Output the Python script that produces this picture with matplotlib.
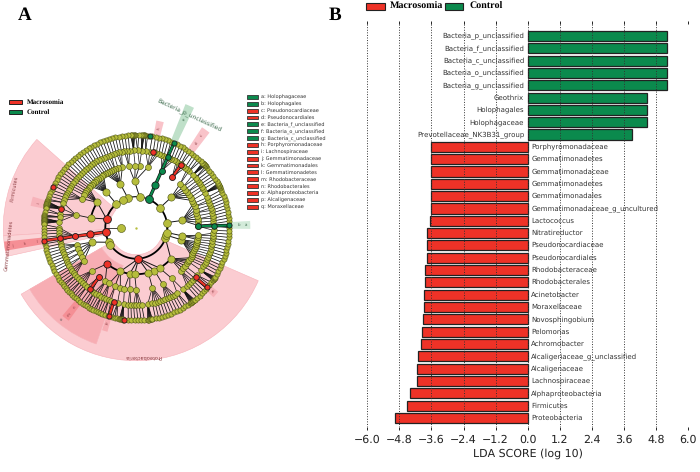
import numpy as np
import matplotlib
matplotlib.use("Agg")
import matplotlib.pyplot as plt
from matplotlib.patches import Wedge, Rectangle

plt.rcParams["text.hinting"] = "none"
plt.rcParams["text.hinting_factor"] = 1

# ==========================================
# Panel B values
# ==========================================

taxa = [
    "Bacteria_p_unclassified", "Bacteria_f_unclassified", "Bacteria_c_unclassified",
    "Bacteria_o_unclassified", "Bacteria_g_unclassified", "Geothrix", "Holophagales",
    "Holophagaceae", "Prevotellaceae_NK3B31_group", "Porphyromonadaceae",
    "Gemmatimonadetes", "Gemmatimonadaceae", "Gemmatimonadetes", "Gemmatimonadales",
    "Gemmatimonadaceae_g_uncultured", "Lactococcus", "Nitratireductor",
    "Pseudonocardiaceae", "Pseudonocardiales", "Rhodobacteraceae", "Rhodobacterales",
    "Acinetobacter", "Moraxellaceae", "Novosphingobium", "Pelomonas", "Achromobacter",
    "Alcaligeriaceae_g_unclassified", "Alcaligenaceae", "Lachnospiraceae",
    "Alphaproteobacteria", "Firmicutes", "Proteobacteria",
]
lda = [
    5.21, 5.21, 5.21, 5.21, 5.21, 4.47, 4.47, 4.47, 3.92,
    -3.62, -3.63, -3.63, -3.63, -3.63, -3.63, -3.65, -3.75, -3.78, -3.78,
    -3.83, -3.83, -3.87, -3.87, -3.91, -3.95, -3.98, -4.11, -4.13, -4.14,
    -4.42, -4.51, -4.97,
]
lda_ticks = [-6.0, -4.8, -3.6, -2.4, -1.2, 0.0, 1.2, 2.4, 3.6, 4.8, 6.0]

# ==========================================
# Panel A values (angles in degrees)
# ==========================================

legend_a = [
    ("a: Holophagaceae", "g"), ("b: Holophagales", "g"), ("c: Pseudonocardiaceae", "r"),
    ("d: Pseudonocardiales", "r"), ("e: Bacteria_f_unclassified", "g"),
    ("f: Bacteria_o_unclassified", "g"), ("g: Bacteria_c_unclassified", "g"),
    ("h: Porphyromonadaceae", "r"), ("i: Lachnospiraceae", "r"),
    ("j: Gemmatimonadaceae", "r"), ("k: Gemmatimonadales", "r"),
    ("l: Gemmatimonadetes", "r"), ("m: Rhodobacteraceae", "r"),
    ("n: Rhodobacterales", "r"), ("o: Alphaproteobacteria", "r"),
    ("p: Alcaligenaceae", "r"), ("q: Moraxellaceae", "r"),
]

ring_radius = [31, 46.5, 62, 77.3, 92.8]

ring1 = [-20, -14, -9, 9.5, 40, 84, 106, 116, 130, 208, 213]
ring2 = [-67, -42, -15, -10, 9, 41, 92, 110, 130, 147, 168, 198, 250, 262, 268, 285, 300]
ring3 = [
    2, 5, 8, 11, 14, 17, 20, 23, 26, 29, 32, 35, 38, 41, 45, 79, 87, 91, 97, 103, 107,
    110, 112, 114, 116, 118, 120, 122, 124, 126, 128, 130, 132, 134, 136, 138, 140, 142,
    144, 146, 148, 152, 168, 196, 200, 204, 208, 212, 224, 240, 244, 250, 255, 259, 264,
    270, 285, 295, 305, 316, 319, 322, 325, 327, 329, 331, 333, 335, 337, 339, 341, 343,
    345, 347, 349, 351, 353,
]
ring4 = [
    3, 5, 7, 9, 11, 13, 15, 17, 19, 21, 23, 27, 30, 32, 34, 36, 38, 40, 43, 47, 49, 51,
    53, 55, 57, 59, 61, 63, 65, 67, 69, 71, 73, 75, 77, 80, 83, 86, 89, 92, 95, 97, 99,
    101, 103, 105, 107, 109, 111, 113, 115, 117, 119, 121, 123, 125, 127, 129, 131, 133,
    135, 137, 139, 141, 143, 145, 147, 149, 151, 153, 155, 157, 159, 161, 165.5, 170,
    172, 175.5, 180, 182, 184, 186, 190, 192, 194, 196, 198, 200, 202, 204, 206, 208,
    210, 212, 214, 216, 218, 220, 222, 224, 226, 228, 230, 235, 237, 239, 241, 243, 245,
    247, 249, 251, 256, 260.5, 264, 266, 268, 270, 272, 274, 278.5, 282, 284, 286, 288,
    290, 292, 294, 296, 298, 300, 302, 307, 311, 313, 315, 317, 319, 322, 326.5, 330,
    332, 334, 336, 338, 340, 342, 344, 346, 348, 350, 352, 354, 356, 358,
]
ring5 = [
    0, 4, 6, 8, 10, 12, 14, 16, 18, 20, 22, 24, 25.5, 26, 26.5, 27, 27.5, 28, 28.5, 30,
    32, 34, 36, 38, 40, 41.5, 42, 42.5, 43, 43.5, 44, 44.5, 46, 48, 50, 52, 54, 56, 58,
    60, 62, 64, 68, 70, 72, 74, 76, 78, 80, 83, 84.5, 85, 85.5, 86, 86.5, 87, 88.5, 90.5,
    91, 91.5, 92, 92.5, 93, 93.5, 95, 97, 99, 101, 103, 105, 107, 109, 111, 113, 115, 117,
    119, 121, 123, 125, 127, 129, 131, 133, 135, 137, 139, 141, 143, 145, 147, 149, 151,
    153, 156, 158, 160, 162, 163, 163.5, 164, 164.5, 165, 165.5, 166, 166.5, 167, 167.5,
    168, 170, 172, 173, 173.5, 174, 174.5, 175, 175.5, 176, 176.5, 177, 177.5, 178, 180,
    182, 184, 186, 190, 192, 194, 196, 198, 200, 202, 204, 206, 208, 210, 212, 214, 216,
    217.5, 219, 220.5, 222, 223.5, 225, 226.5, 228, 229.5, 231, 233, 235, 236.5, 238,
    239.5, 241, 242.5, 244, 245.5, 247, 248.5, 250, 252, 255, 256.5, 258, 259.5, 260,
    260.5, 261, 261.5, 262, 265, 267, 269, 271, 273, 275, 277, 277.5, 278, 278.5, 279,
    279.5, 280, 282, 284, 286, 288, 290, 292, 294, 296, 298, 300, 302, 304, 305.5, 306,
    306.5, 307, 307.5, 308, 308.5, 309, 311, 313, 315, 317, 319, 322, 324, 325.5, 326,
    326.5, 327, 327.5, 328, 330, 332, 334, 336, 338, 340, 342, 344, 346, 348, 350, 352,
    354, 356, 358,
]

# (ring index, angle) of the coloured nodes
red_nodes = [
    (0, 163.6), (0, 188), (0, 274), (1, 188), (1, 231), (2, 188), (2, 233), (2, 54.6),
    (3, 188), (3, 165.8), (3, 232.8), (3, 253.4), (3, 54.5), (3, 77.4), (3, 320),
    (4, 188), (4, 154.3), (4, 253), (4, 262.6), (4, 320),
]
green_nodes = [
    (0, 66), (1, 66), (2, 66), (3, 66), (4, 66), (2, 1.4), (3, 1.4), (4, 1.4), (4, 81.4),
]
red_paths = [(0, 4, 188), (2, 3, 54.5), (2, 3, 233), (3, 4, 320), (3, 4, 253)]
green_paths = [(0, 4, 66), (2, 4, 1.4)]

# r, start angle, end angle of the thick arcs
thick_arcs = [
    (31, 188, 360), (31, 130, 188), (31, 0, 66), (46.5, 231, 318), (46.5, 147, 170),
]

# start angle, end angle, inner r, outer r, colour
sectors = [
    (210, 336.5, 27, 133, "#fbccd1"),
    (138.4, 183.5, 27, 133, "#fbccd1"),
    (183.5, 192.5, 27, 133, "#fbd5d8"),
    (210, 251, 40, 123, "#f7adb3"),
]
# angle, half width, inner r, outer r, colour
strips = [
    (188, 2.0, 93, 133, "#f58f95"),
    (66.3, 2.0, 93, 133, "#bfe0c9"),
    (1.4, 2.0, 95, 114, "#d3ebda"),
    (77.4, 2.0, 95, 109, "#f9c3c9"),
    (54.6, 2.2, 95, 120, "#f9c3c9"),
    (165.8, 2.5, 94, 108, "#f7b3ba"),
    (232, 2.0, 93, 115, "#f58f95"),
    (253, 1.5, 93, 108, "#f7adb3"),
    (320, 2.0, 94, 104, "#f7b3ba"),
]

RED = "#ee3227"
GREEN = "#0b8a4d"
YELLOW = "#b6bd3c"
CX, CY = 136.3, 244.3


def polar(r, a):
    t = np.radians(a)
    return CX + r * np.cos(t), CY + r * np.sin(t)


def node(ax, ring, a, color, zorder=5):
    d = [7.8, 7.2, 6.0, 5.6, 5.2][ring]
    x, y = polar(ring_radius[ring], a)
    ax.scatter([x], [y], s=(d * 0.72) ** 2, c=color, edgecolors="#4a5012" if color == YELLOW else "#1a1a1a",
               linewidths=0.4 if color == YELLOW else 0.6, zorder=zorder)


fig = plt.figure(figsize=(7, 4.72), dpi=100)

# ==========================================
# Panel A: cladogram in pixel coordinates
# ==========================================

ax = fig.add_axes([0, 0, 1, 1])
ax.set_xlim(0, 700)
ax.set_ylim(0, 472)
ax.axis("off")

for a0, a1, r0, r1, col in sectors:
    ax.add_patch(Wedge((CX, CY), r1, a0, a1, width=r1 - r0, fc=col, ec="#f7b3ba", lw=0.4, zorder=1))
for a, hw, r0, r1, col in strips:
    ax.add_patch(Wedge((CX, CY), r1, a - hw, a + hw, width=r1 - r0, fc=col, ec="none", zorder=1.5))

rings = [ring1, ring2, ring3, ring4, ring5]
for i in range(1, 5):
    parents = np.array(rings[i - 1] + [c[1] for c in red_nodes + green_nodes if c[0] == i - 1])
    lw = [0.7, 0.6, 0.5, 0.55][i - 1]
    for a in rings[i]:
        diff = np.abs((parents - a + 180) % 360 - 180)
        p = parents[np.argmin(diff)]
        x0, y0 = polar(ring_radius[i - 1], p)
        x1, y1 = polar(ring_radius[i], a)
        ax.plot([x0, x1], [y0, y1], color="#111111", lw=lw, zorder=2, solid_capstyle="butt")

for r, a0, a1 in thick_arcs:
    t = np.radians(np.linspace(a0, a1, 80))
    ax.plot(CX + r * np.cos(t), CY + r * np.sin(t), color="black", lw=1.3, zorder=3)
t = np.radians(np.linspace(66, 163.6, 60))
ax.plot(CX + 31 * np.cos(t), CY + 31 * np.sin(t), color="black", lw=0.8, zorder=3)

# big node on the inner level
x, y = polar(15.2, 180)
ax.plot([x, polar(31, 180)[0]], [y, y], color="#222222", lw=0.6, zorder=2)
ax.scatter([x], [y], s=(8 * 0.72) ** 2, c=YELLOW, edgecolors="#4a5012", linewidths=0.4, zorder=5)
ax.scatter([CX], [CY], s=0.5, c=YELLOW, zorder=5)

for i, ring in enumerate(rings):
    for a in ring:
        node(ax, i, a, YELLOW, zorder=4 + i * 0.01)

for paths, col in ((red_paths, RED), (green_paths, GREEN)):
    for i0, i1, a in paths:
        x0, y0 = polar(ring_radius[i0], a)
        x1, y1 = polar(ring_radius[i1], a)
        ax.plot([x0, x1], [y0, y1], color="#111111", lw=2.4, zorder=4.5, solid_capstyle="butt")
        ax.plot([x0, x1], [y0, y1], color=col, lw=1.5, zorder=4.6, solid_capstyle="butt")
for ring, a in red_nodes:
    node(ax, ring, a, RED, zorder=6)
for ring, a in green_nodes:
    node(ax, ring, a, GREEN, zorder=6)

# labels around the circle
ax.text(14, 283, "Firmicutes", rotation=80, fontsize=3.9, color="#8a3b40", ha="center", va="center")
ax.text(9, 227, "Gemmatimonadetes", rotation=84, fontsize=3.9, color="#8a3b40", ha="center", va="center")
ax.text(143, 116, "Proteobacteria", rotation=180, fontsize=3.9, color="#8a3b40", ha="center", va="center")
ax.text(189, 357, "Bacteria_p_unclassified", rotation=-25, fontsize=4.0, color="#3c6a4c", ha="center", va="center")

for r, a, s, rot, col in [
    (100, 188, "l", 8, "#8a3b40"), (113, 188, "k", 8, "#8a3b40"), (125, 188, "j", 8, "#8a3b40"),
    (118, 66.3, "e", 66, "#3c6a4c"), (103, 1.4, "b", 1, "#3c6a4c"), (110, 1.4, "a", 1, "#3c6a4c"),
    (102, 77.4, "h", 77, "#8a3b40"), (104, 54.6, "d", 55, "#8a3b40"), (113, 54.6, "c", 55, "#8a3b40"),
    (101, 165.8, "i", 76, "#8a3b40"), (101, 232, "n", 52, "#8a3b40"), (110, 232, "m", 52, "#8a3b40"),
    (118, 231, "o", 52, "#555555"), (100, 253, "p", 73, "#8a3b40"), (99, 320, "q", -40, "#8a3b40"),
]:
    x, y = polar(r, a)
    ax.text(x, y, s, rotation=rot, fontsize=3.2, color=col, ha="center", va="center", zorder=7)

# panel letters
serif = "Liberation Serif"
ax.text(18, 457, "A", fontsize=14, fontweight="bold", family=serif, va="center")
ax.text(329, 457, "B", fontsize=14, fontweight="bold", family=serif, va="center")

# group legend of panel A
for yy, label, col in [(370, "Macrosomia", RED), (360, "Control", GREEN)]:
    ax.add_patch(Rectangle((8.5, yy - 2.2), 13.5, 4.4, fc=col, ec="#222222", lw=0.7))
    ax.text(27, yy, label, fontsize=5.3, fontweight="bold", family=serif, va="center")

# letter legend of panel A
for i, (label, c) in enumerate(legend_a):
    yy = 375 - i * 6.85
    ax.add_patch(Rectangle((246.5, yy - 1.9), 11, 3.8, fc=GREEN if c == "g" else RED, ec="#333333", lw=0.6))
    ax.text(261, yy, label, fontsize=3.4, color="#333333", va="center")

# group legend of panel B
for x0, x1, tx, label, col in [(366, 385, 390, "Macrosomia", RED), (444.5, 463, 470, "Control", GREEN)]:
    ax.add_patch(Rectangle((x0, 462), x1 - x0, 7, fc=col, ec="#222222", lw=0.8))
    ax.text(tx, 465.7, label, fontsize=6.9, fontweight="bold", family=serif, va="center")

# ==========================================
# Panel B: LDA bars
# ==========================================

bx = fig.add_axes([367.3 / 700, (472 - 427) / 472, 320.7 / 700, (427 - 24) / 472])
bx.patch.set_alpha(0)
pos = np.arange(len(taxa))
colors = [GREEN if v > 0 else RED for v in lda]
bx.barh(pos, lda, height=0.82, color=colors, edgecolor="#222222", linewidth=0.9, zorder=2)

for p, v, name in zip(pos, lda, taxa):
    if v > 0:
        bx.text(-0.13, p, name, ha="right", va="center", fontsize=5.05, color="#333333", zorder=4)
    else:
        bx.text(0.13, p, name, ha="left", va="center", fontsize=5.05, color="#333333", zorder=4)

bx.set_xlim(-6, 6)
bx.set_ylim(31.74, -0.974)
bx.set_xticks(lda_ticks)
bx.set_xticklabels(["\u2212%.1f" % abs(v) if v < 0 else "%.1f" % v for v in lda_ticks], fontsize=7.9, color="#222222")
bx.set_yticks([])
bx.tick_params(axis="x", top=True, bottom=True, length=2.5, width=0.6, pad=3)
for s in bx.spines.values():
    s.set_visible(False)
bx.grid(axis="x", linestyle=":", color="#333333", lw=0.7, zorder=3)
bx.set_axisbelow(False)
bx.set_xlabel("LDA SCORE (log 10)", fontsize=8, color="#222222", labelpad=2)

fig.savefig("out.png", dpi=100, facecolor="white")
